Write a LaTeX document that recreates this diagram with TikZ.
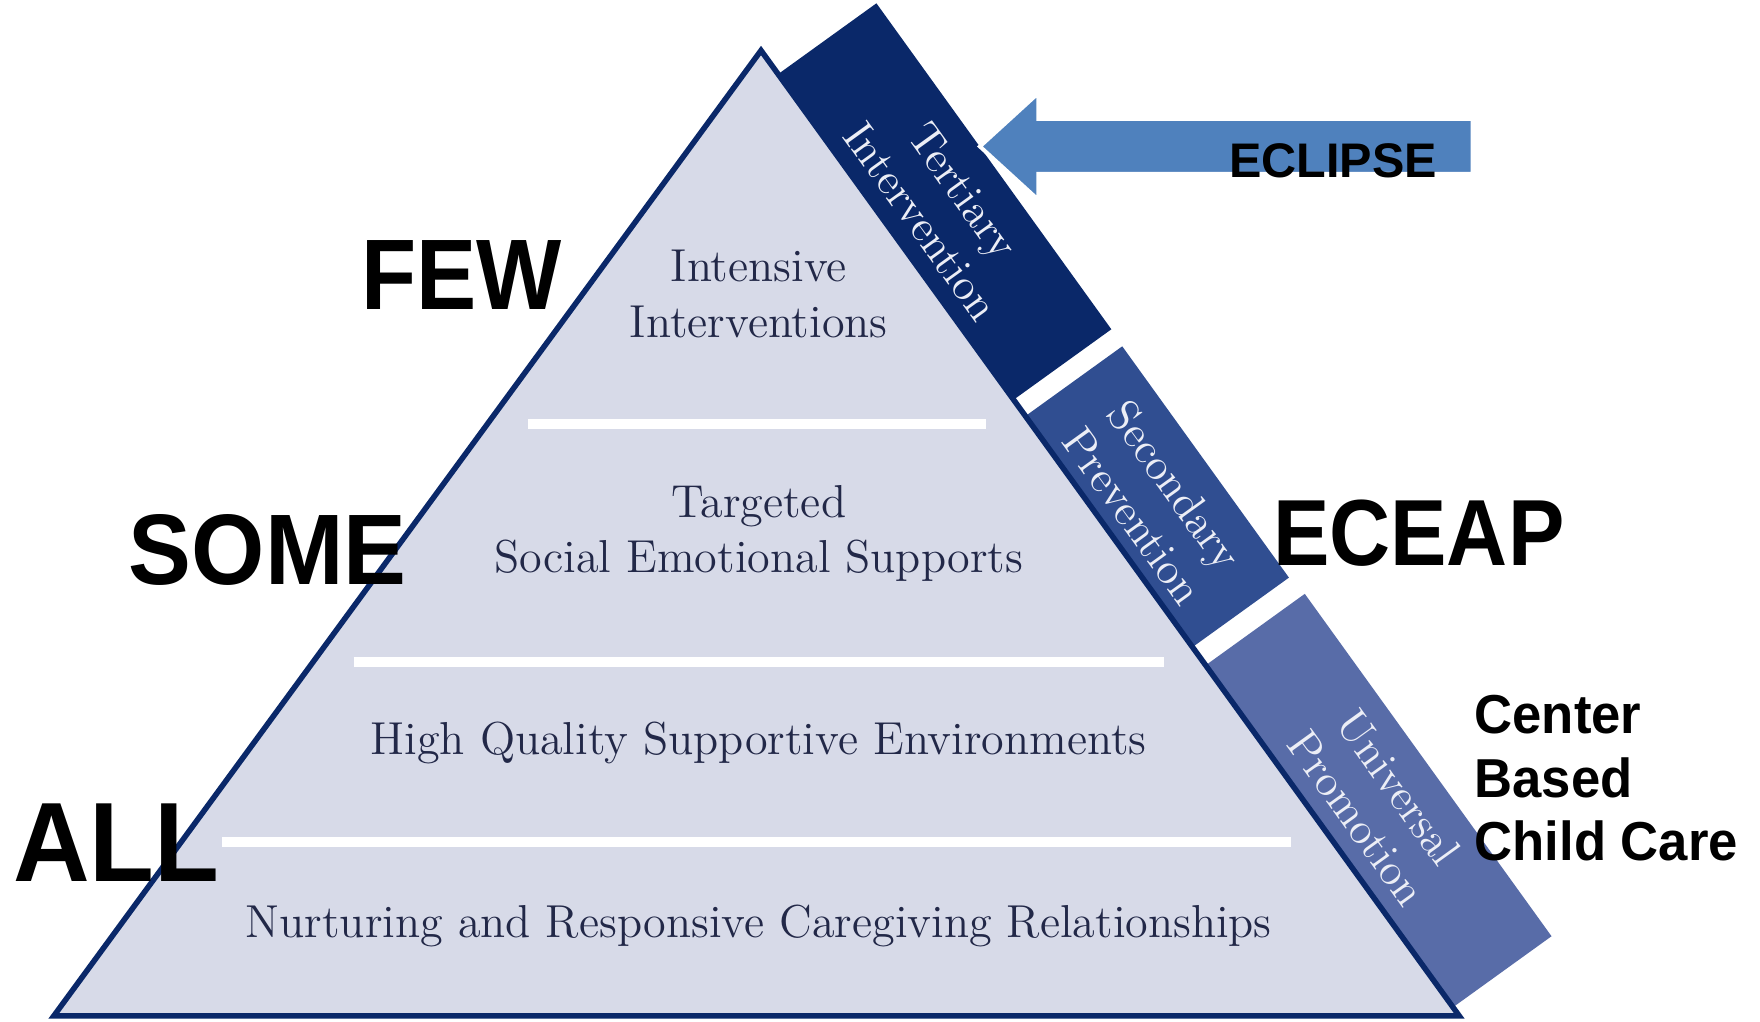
\documentclass[tikz,border=0pt]{standalone}
\usepackage{fontspec}
\newfontfamily\arialf{Liberation Sans}
\usetikzlibrary{calc}
\definecolor{navy}{RGB}{10,40,105}
\definecolor{secblue}{RGB}{48,78,145}
\definecolor{unblue}{RGB}{88,108,168}
\definecolor{pyrfill}{RGB}{215,218,232}
\definecolor{pyrtext}{RGB}{34,40,72}
\definecolor{arrowblue}{RGB}{79,129,189}
\definecolor{bandtext}{RGB}{236,238,246}
\begin{document}
\begin{tikzpicture}[x=0.01cm,y=-0.01cm,
  bigword/.style={font=\arialf\bfseries\fontsize{25.4}{30}\selectfont, inner sep=0pt, text=black},
  tier/.style={font=\fontsize{11.7}{14}\selectfont, text=pyrtext, align=center, inner sep=0pt},
  bandlbl/.style={font=\fontsize{11.3}{13.2}\selectfont, text=bandtext, align=center, inner sep=0pt, transform shape},
  sepbar/.style={white, line width=0.09cm},
  ]
\fill[white] (0,0) rectangle (1568,910);
\useasboundingbox (0,0) rectangle (1568,910);
\coordinate (A) at (678,45);
\coordinate (BL) at (48,905);
\coordinate (BR) at (1300,905);
% bands
\begin{scope}[shift={(A)}, rotate=-54.22]
  \fill[navy] (26,-1) rectangle (384,-108);
  \fill[secblue] (402,-1) rectangle (656,-107);
  \fill[unblue] (676,-1) rectangle (1052,-110);
\end{scope}
% pyramid
\draw[navy, line width=1.4pt, fill=pyrfill, line join=miter] (A) -- (BR) -- (BL) -- cycle;
\draw[sepbar] (470,378) -- (878,378);
\draw[sepbar] (315,590) -- (1037,590);
\draw[sepbar] (198,750) -- (1150,750);
\node[tier] (t1) at (676,262) {Intensive\\Interventions};
\node[tier] (t2) at (676,475) {Targeted\\Social Emotional Supports};
\node[tier] (t3) at (676,662) {High Quality Supportive Environments};
\node[tier] (t4) at (676,825) {Nurturing and Responsive Caregiving Relationships};
% band labels
\begin{scope}[shift={(A)}, rotate=-54.22]
  \node[bandlbl] (tert) at (207,-50) {Tertiary\\Intervention};
  \node[bandlbl] (sec) at (530,-50) {Secondary\\Prevention};
  \node[bandlbl] (uni) at (865,-54) {Universal\\Promotion};
\end{scope}
% arrow
\fill[arrowblue, draw=white, line width=1pt, line join=miter] (873,130.5) -- (925,83) -- (925,106) -- (1312,106) -- (1312,155) -- (925,155) -- (925,178) -- cycle;
\node[font=\arialf\bfseries\fontsize{12.3}{14}\selectfont, inner sep=0pt] (eclipse) at (1187.5,143) {ECLIPSE};
% side words
\node[bigword, xscale=0.9] (few) at (411,245) {FEW};
\node[bigword, xscale=0.94] (some) at (238.5,490) {SOME};
\node[bigword, xscale=0.94, font=\arialf\bfseries\fontsize{28.6}{32}\selectfont] (all) at (103.5,751) {ALL};
\node[bigword, xscale=0.9, font=\arialf\bfseries\fontsize{23.8}{28}\selectfont] (eceap) at (1264,475) {ECEAP};
\node[font=\arialf\bfseries\fontsize{13.9}{16.1}\selectfont, align=left, inner sep=0pt, anchor=north west, xscale=0.96] (cbcc) at (1313,619) {Center\\Based\\Child Care};
\end{tikzpicture}
\end{document}
